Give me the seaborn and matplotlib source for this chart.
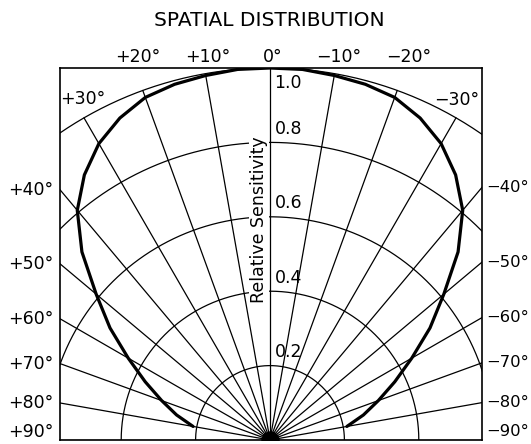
import numpy as np
import pandas as pd
import matplotlib
matplotlib.use("Agg")
import matplotlib.pyplot as plt
import seaborn as sns

# ---------------- data ----------------
title = "SPATIAL DISTRIBUTION"
# half-pattern (degrees off axis, relative sensitivity); mirrored for the other side
curve_angle = [0, 5, 10, 15, 20, 25, 30, 35, 40, 45, 50, 55, 60, 65, 70, 75, 80]
curve_r = [1.00, 1.00, 0.995, 0.99, 0.98, 0.955, 0.92, 0.87, 0.806, 0.715, 0.61,
           0.525, 0.44, 0.37, 0.31, 0.26, 0.21]
spoke_angles = [-90, -80, -70, -60, -50, -40, -30, -20, -10, 0,
                10, 20, 30, 40, 50, 60, 70, 80, 90]
ring_radii = [0.2, 0.4, 0.6, 0.8, 1.0]
ring_labels = ["0.2", "0.4", "0.6", "0.8", "1.0"]
top_angles = [20, 10, 0, -10, -20]
top_labels = ["+20°", "+10°", "0°", "\u221210°", "\u221220°"]
side_angles = [40, 50, 60, 70, 80]
left_labels = ["+40°", "+50°", "+60°", "+70°", "+80°"]
right_labels = ["\u221240°", "\u221250°", "\u221260°", "\u221270°", "\u221280°"]
ylabel = "Relative Sensitivity"

# ---------------- figure ----------------
sns.set_style("white")
plt.rcParams["font.family"] = ["DejaVu Sans"]
plt.rcParams["text.color"] = "black"

W, H = 531, 444
R = 372.0  # pixels per unit radius
fig = plt.figure(figsize=(W / 100, H / 100), dpi=100)
ax = fig.add_axes([60 / W, 4 / H, 422 / W, 372 / H])
ax.set_xlim(-210 / R, 212 / R)
ax.set_ylim(0, 1)

# polar grid: spokes
for a in spoke_angles:
    t = np.radians(a)
    ax.plot([0, -np.sin(t)], [0, np.cos(t)], color="black", lw=0.9, zorder=1)
# polar grid: rings
tt = np.radians(np.linspace(-90, 90, 721))
for r in ring_radii:
    ax.plot(-r * np.sin(tt), r * np.cos(tt), color="black", lw=0.9, zorder=1)

# sensitivity curve
ang = [-a for a in curve_angle[::-1]] + curve_angle[1:]
rr = curve_r[::-1] + curve_r[1:]
th = np.radians(ang)
df = pd.DataFrame({"x": -np.array(rr) * np.sin(th), "y": np.array(rr) * np.cos(th)})
sns.lineplot(data=df, x="x", y="y", sort=False, estimator=None, color="black",
             lw=2.3, ax=ax, zorder=3)

# centre dot
sns.scatterplot(x=[0.0], y=[0.0], s=150, color="black", edgecolor="black",
                ax=ax, zorder=4, legend=False)

for s in ax.spines.values():
    s.set_visible(True)
    s.set_color("black")
    s.set_linewidth(1.2)
ax.set_xticks([])
ax.set_yticks([])
ax.set_xlabel("")
ax.set_ylabel("")

fs = 12.5
tc = "black"
# ring labels
for r, lab in zip(ring_radii, ring_labels):
    if r < 1.0:
        ax.text(0.012, r + 0.012, lab, ha="left", va="bottom", fontsize=fs, zorder=5, color=tc)
    else:
        ax.text(0.012, 0.985, lab, ha="left", va="top", fontsize=fs, zorder=5, color=tc)

# axis title inside
ax.text(-11 / R, 0.591, ylabel, rotation=90, ha="center", va="center", fontsize=fs,
        zorder=5, color=tc, bbox=dict(boxstyle="square,pad=0.05", fc="white", ec="none"))

# top angle labels
for a, lab in zip(top_angles, top_labels):
    ax.text(-np.tan(np.radians(a)) + 0.008, 1.03, lab, ha="center", va="center",
            fontsize=fs, clip_on=False, color=tc)
ax.text(-0.503, 0.917, "+30°", ha="center", va="center", fontsize=fs, zorder=5, color=tc)
ax.text(0.503, 0.913, "\u221230°", ha="center", va="center", fontsize=fs, zorder=5, color=tc)

# side labels
xl, xr = -210 / R, 212 / R
fs_r = 11.8
for a, l1, l2 in zip(side_angles, left_labels, right_labels):
    yl = abs(xl) / np.tan(np.radians(a))
    yr = xr / np.tan(np.radians(a))
    ax.text(-217 / R, yl, l1, ha="right", va="center", fontsize=fs, clip_on=False, color=tc)
    ax.text(216 / R, yr, l2, ha="left", va="center", fontsize=fs_r, clip_on=False, color=tc)
ax.text(-217 / R, 0.022, "+90°", ha="right", va="center", fontsize=fs, clip_on=False, color=tc)
ax.text(216 / R, 0.022, "\u221290°", ha="left", va="center", fontsize=fs_r, clip_on=False, color=tc)

fig.text(269 / W, 1 - 20 / H, title, ha="center", va="center", fontsize=14.5, color=tc)

fig.savefig("out.png", dpi=100)
